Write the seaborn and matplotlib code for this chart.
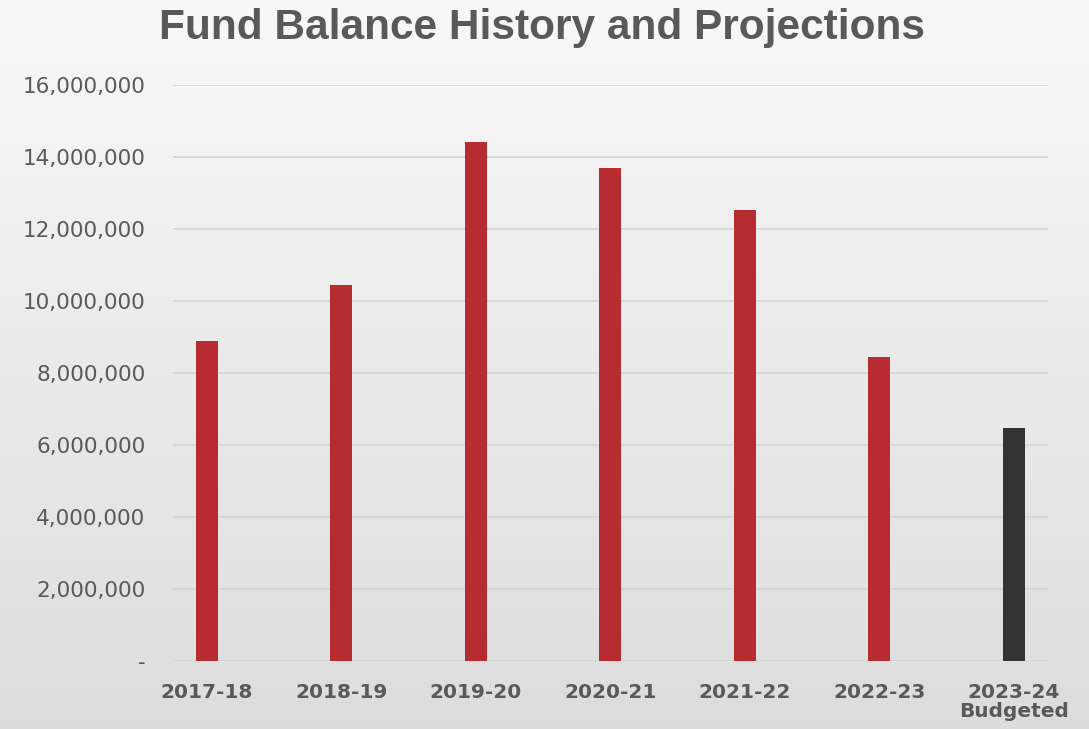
import numpy as np
import pandas as pd
import matplotlib
matplotlib.use("Agg")
import matplotlib.pyplot as plt
import seaborn as sns
from matplotlib.ticker import FuncFormatter

years = ["2017-18", "2018-19", "2019-20", "2020-21", "2021-22", "2022-23", "2023-24\nBudgeted"]
balance = [8890000, 10440000, 14420000, 13690000, 12530000, 8440000, 6470000]
bar_colors = ["#b72c31", "#b72c31", "#b72c31", "#b72c31", "#b72c31", "#b72c31", "#333333"]

df = pd.DataFrame({"Year": years, "Balance": balance})

sns.set_style("white")
plt.rcParams['font.family'] = ['DejaVu Sans']

fig = plt.figure(figsize=(10.89, 7.29), dpi=100)

# gradient background over whole figure
bg = fig.add_axes([0, 0, 1, 1], zorder=-2)
grad = np.linspace(0, 1, 256).reshape(-1, 1)
top = np.array([0.975, 0.975, 0.975])
bot = np.array([0.865, 0.865, 0.865])
img = top + (bot - top) * grad[..., None]
bg.imshow(np.repeat(img, 2, axis=1), aspect="auto", extent=[0, 1, 0, 1], origin="upper")
bg.axis("off")

ax = fig.add_axes([0.159, 0.0933, 0.803, 0.79])
ax.patch.set_alpha(0)
sns.barplot(data=df, x="Year", y="Balance", hue="Year", palette=bar_colors,
            legend=False, width=0.163, saturation=1, linewidth=0, ax=ax, zorder=3)

ax.set_xlim(-0.25, 6.25)
ax.set_ylim(0, 16000000)
ax.set_yticks(np.arange(0, 16000001, 2000000))
ax.yaxis.set_major_formatter(FuncFormatter(lambda v, p: "-" if v == 0 else f"{v:,.0f}"))
ax.grid(axis="y", color="#d6d6d6", linewidth=1.3, zorder=0)
ax.set_axisbelow(True)
for s in ax.spines.values():
    s.set_visible(False)
ax.tick_params(axis="y", length=0, pad=20, labelsize=15.5, labelcolor="#595959")
ax.tick_params(axis="x", length=0, pad=16, labelcolor="#595959")
for lbl in ax.get_xticklabels():
    lbl.set_fontsize(14.5)
    lbl.set_fontweight("bold")
    lbl.set_linespacing(1.0)
ax.set_xlabel("")
ax.set_ylabel("")

fig.text(0.498, 0.962, "Fund Balance History and Projections", ha="center", va="center",
         fontsize=30.5, fontweight="bold", color="#595959",
         family=['Liberation Sans Narrow', 'Liberation Sans', 'DejaVu Sans'])

fig.savefig("out.png", dpi=100)
